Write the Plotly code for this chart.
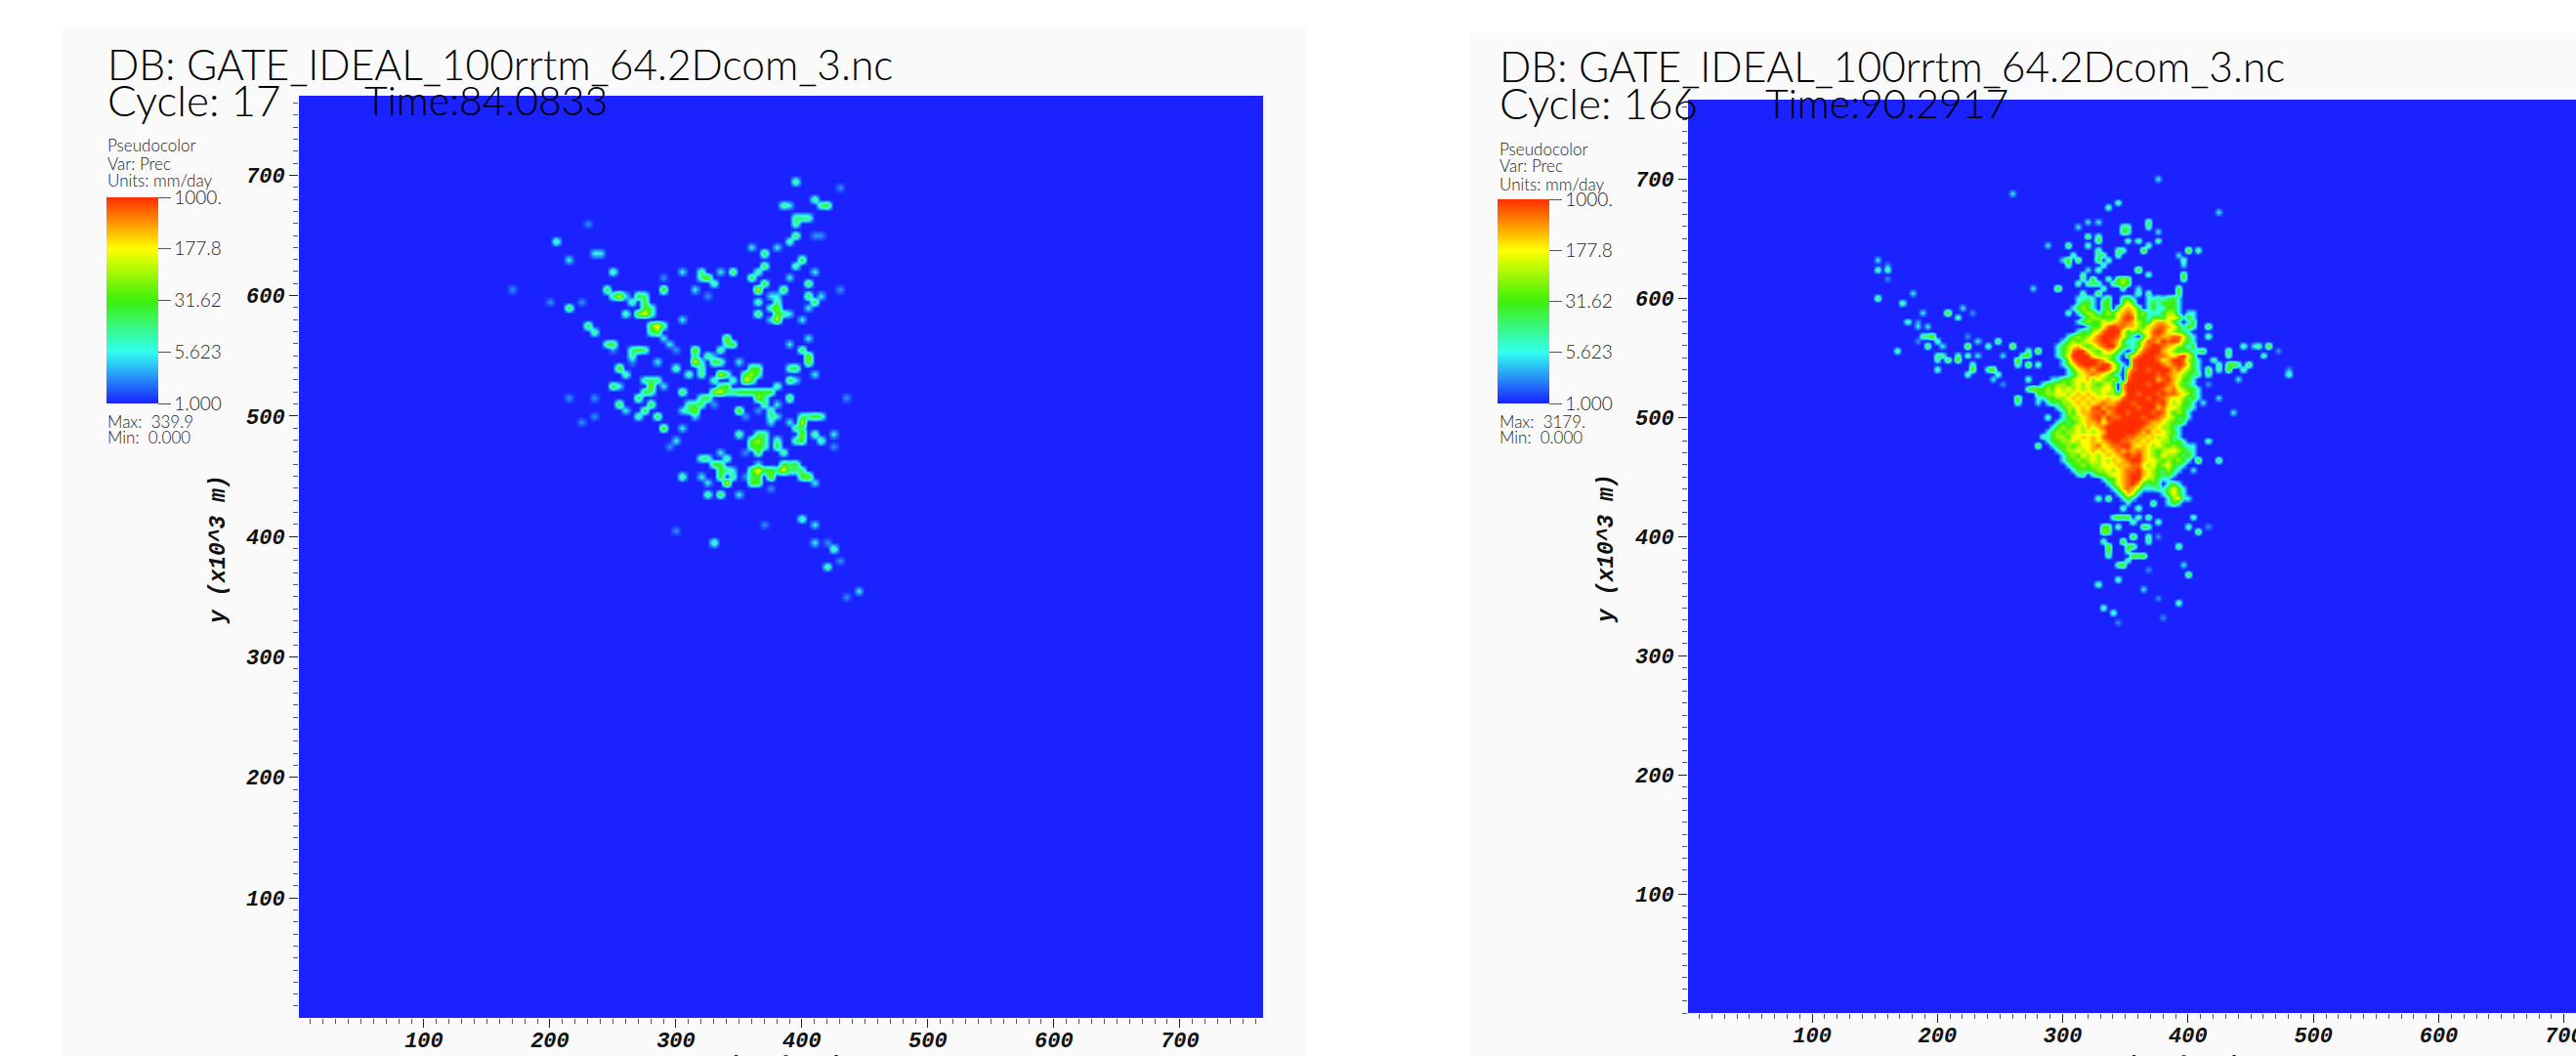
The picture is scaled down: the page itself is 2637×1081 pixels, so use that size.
import numpy as np
import plotly.graph_objects as go

W, H = 2637, 1081
TITLE = "DB: GATE_IDEAL_100rrtm_64.2Dcom_3.nc"
COLORBAR_VALUES = [0, 0.75, 1.5, 2.25, 3]
COLORBAR_LABELS = ["1.000", "5.623", "31.62", "177.8", "1000."]
AXIS_TICKS = [100, 200, 300, 400, 500, 600, 700]
# precipitation (mm/day) for each intensity class
CLASS_MM_DAY = [1.0, 2.6, 5.6, 15.0, 31.6, 71.0, 178.0, 320.0, 630.0, 1000.0]

# ---- Left frame, cycle 17: rain cells (x km, y km, intensity class)
left_x = [396,430,411,384,391,421,399,397,395,391,388,408,414,381,360,370,399,370,363,393,
          408,388,360,363,370,403,432,386,375,381,417,366,380,406,411,406,364,379,382,390,
          373,401,406,388,404,406,390,395,390,412,395,
          204,231,234,240,213,169,198,213,224,252,247,255,262,264,273,262,271,277,282,284,
          284,291,291,232,304,288,291,306,319,326,333,345,315,324,251,264,270,249,295,298,
          286,264,257,278,280,274,286,292,248,255,270,213,237,253,262,282,277,271,284,291,
          304,300,295,225,237,
          316,313,302,309,318,340,345,337,328,322,336,331,348,333,340,345,358,364,355,342,
          328,337,322,306,350,358,367,367,377,372,390,382,313,319,315,304,331,349,375,373,
          378,357,363,
          398,412,417,406,399,391,398,412,413,423,426,375,350,363,371,366,366,379,380,385,
          357,367,333,323,342,335,345,359,367,376,384,385,393,395,399,406,412,322,306,327,
          335,344,342,362,355,327,334,351,376,
          401,411,411,421,426,419,444,435,330,298,370,432,435,
          326,330,334,338,342,346,350,354,358,362,366,370,374,378,370,368,372,374,
          354,358,362,366,362,356,338,336,340,362,366,370,362,370,366,
          331,335,339,335,343,363,371,375,380,388,392,396,400,363,360,364,
          396,400,396,400,398,402,375,380,383,378,268,277,275,268,280,281,287,281,
          276,284,278,309,311,316,402,407,313,326,333,322,328,336,
          249,236,417,395,403,322,330,253,262,247,266,274,408,414,319,327]
left_y = [694,691,682,673,676,673,667,660,648,646,643,649,652,639,640,633,630,624,622,625,
          622,615,613,606,612,610,607,603,601,601,601,595,591,599,595,589,586,586,580,583,
          580,578,565,559,549,544,541,541,532,534,529,
          643,658,634,634,628,604,594,592,596,620,603,598,599,593,597,585,584,586,586,574,
          568,576,567,576,580,616,607,619,619,614,620,619,607,601,558,551,556,553,559,553,
          546,543,538,532,525,521,532,526,523,526,516,515,514,510,504,509,505,499,500,490,
          490,480,477,496,498,
          554,543,542,536,534,563,561,556,545,547,547,552,545,533,534,530,534,539,528,525,
          520,520,517,522,522,521,517,522,522,513,513,510,507,511,499,505,510,505,507,501,
          499,499,507,
          502,499,499,499,493,493,483,486,481,484,474,493,484,486,486,478,471,480,474,472,
          468,462,472,466,463,457,456,456,453,452,460,456,461,457,451,449,447,451,448,447,
          451,449,443,446,450,436,434,435,442,
          416,409,397,397,390,375,357,349,397,403,411,379,514,
          517,518,520,522,522,521,520,520,522,522,520,520,522,524,516,512,508,504,
          536,538,536,535,532,532,559,554,558,482,482,478,474,474,474,
          460,461,453,453,452,456,454,455,456,462,457,455,453,450,450,443,
          488,488,478,478,497,482,592,595,587,582,598,598,592,584,590,577,570,568,
          528,528,520,512,503,509,555,552,550,550,545,540,530,527,
          598,572,676,667,667,617,610,538,537,558,556,555,499,500,466,466]
left_class = [3,1,3,3,2,4,3,3,4,3,3,1,1,2,2,4,4,4,3,3,
              2,2,4,6,4,4,1,4,2,2,2,3,5,4,4,2,4,4,6,2,
              2,2,2,2,5,5,3,4,4,2,2,
              3,1,2,2,2,1,1,4,1,3,4,6,2,3,4,3,5,6,3,7,
              4,3,2,4,2,1,5,2,3,5,2,4,2,1,4,3,4,1,2,1,
              2,1,5,3,5,4,2,2,4,2,4,1,1,4,2,4,4,3,4,5,
              2,2,1,1,1,
              5,6,3,3,3,5,4,3,4,2,3,1,2,6,3,3,5,4,6,4,
              5,6,3,4,4,4,5,4,4,3,4,2,5,3,2,2,1,5,3,3,
              2,1,1,
              3,4,3,3,6,2,5,3,3,2,1,2,3,3,3,5,4,3,4,3,
              1,2,2,3,3,4,2,4,6,5,4,6,4,3,4,5,2,2,3,2,
              4,3,6,4,1,3,4,2,1,
              3,2,2,1,3,3,2,1,3,1,1,1,1,
              4,4,3,3,3,3,3,4,4,4,4,4,3,3,3,3,3,3,
              4,4,4,3,4,3,3,3,3,4,4,3,4,3,4,
              4,4,3,4,3,4,4,4,3,3,3,3,3,4,3,4,
              3,3,3,3,3,4,3,3,3,3,4,3,4,3,3,4,3,3,
              3,3,3,3,3,3,4,4,3,3,3,3,3,3,
              3,3,3,3,3,3,3,3,3,3,3,3,3,3,3,3]

# ---- Right frame, cycle 166: scattered rain cells (x km, y km, intensity class)
right_x = [378,261,336,345,425,366,326,319,312,378,348,352,318,377,327,303,288,352,365,407,
           399,393,349,343,327,327,306,313,301,335,320,395,326,362,366,395,325,317,313,335,
           349,349,344,343,360,296,294,277,327,390,390,383,379,348,317,370,362,304,394,404,
           414,417,396,403,413,403,431,430,445,453,462,470,421,436,430,418,443,449,414,405,
           478,479,438,405,404,416,413,423,405,435,
           414,405,399,407,423,405,393,395,402,405,402,414,408,392,396,402,393,381,378,
           330,336,344,353,348,360,370,373,375,332,332,364,366,355,349,357,334,334,357,365,
           349,345,330,363,331,340,375,375,369,342,
           150,159,153,159,159,150,180,171,189,206,219,228,214,177,186,192,186,197,187,183,
           222,204,190,170,222,232,242,250,260,273,281,252,199,204,209,218,231,266,271,264,
           244,240,229,225,198,243,252,271,275,262,282,287,283,282,279,
           353,353,349,339,325,321,329,333,316,309,302,331,331,345,352,352,347,366,368,362,
           397,396,327,326,320,
           425,434,441,408,426,410,465,461,457,
           214,222,200,193,200,226,228,246,268,272,278,280,270,285,264,
           336,334,360,349,340,345,351,352,360,367,366,374,355,332,338,351,346]
right_y = [700,686,677,678,670,666,664,663,660,658,655,657,651,649,646,645,643,646,641,642,
           638,637,638,636,637,631,631,631,634,631,626,628,625,624,619,621,618,615,612,615,
           618,611,616,611,610,609,607,610,605,609,604,601,597,601,604,603,603,589,585,577,
           574,570,570,567,556,558,556,554,559,559,558,556,547,546,540,541,541,542,537,536,
           535,541,532,530,524,526,514,517,514,505,
           478,475,469,464,463,457,440,433,432,417,409,409,403,391,375,366,343,331,349,
           430,430,418,417,414,425,418,429,411,407,403,406,401,401,395,392,391,388,384,383,
           374,365,360,355,340,337,442,401,372,328,
           632,629,623,623,616,599,604,595,589,589,590,589,583,580,580,578,574,569,567,565,
           569,562,559,556,561,563,560,565,562,556,556,552,552,552,548,549,550,548,544,544,
           539,539,540,535,541,532,529,531,524,517,515,501,483,475,514,
           618,611,606,611,611,611,612,608,621,636,629,636,627,642,650,660,660,660,645,646,
           632,618,652,642,645,
           544,544,542,534,539,556,560,554,560,
           552,552,548,570,565,560,545,535,552,552,546,522,524,520,512,
           403,408,415,422,418,408,394,388,384,410,396,412,411,395,386,380,378]
right_class = [2,2,3,3,2,4,2,2,2,2,4,3,4,3,4,4,2,3,5,3,
               5,2,3,3,3,4,5,4,2,3,2,2,3,5,3,5,4,3,3,3,
               5,5,4,4,2,5,3,2,4,4,4,3,4,3,3,3,3,3,5,3,
               4,3,4,2,4,4,4,3,3,2,5,1,3,5,5,4,3,4,3,3,
               3,1,2,2,2,1,2,2,1,2,
               3,2,3,5,4,2,2,2,2,3,3,1,4,4,2,4,3,1,1,
               3,4,5,5,4,3,4,4,3,4,5,4,3,5,5,4,5,4,5,5,
               5,3,3,2,3,3,3,1,1,1,
               2,1,3,3,1,4,2,3,2,5,2,1,3,3,1,2,2,5,3,1,
               1,2,4,3,5,2,3,4,5,3,5,2,3,3,4,5,2,5,5,3,
               5,3,5,3,3,2,1,3,5,5,2,3,3,4,2,
               4,4,3,3,3,3,3,3,3,3,3,3,3,3,3,3,3,3,3,3,
               3,4,3,3,3,
               3,4,3,3,3,3,3,3,3,
               3,3,3,3,3,3,3,3,4,4,3,3,3,3,3,
               4,4,3,3,3,3,4,3,4,3,3,3,3,3,3,3,3]

# ---- Right frame: the dense core, one row per 4 km going south from y = 600 km,
# first column at x = 268 km. Digits are intensity classes.
core_x0 = 268
core_y0 = 600
core_rows = [
    "000000000002232024002420022322420000",
    "000000000002442044004640024224420000",
    "000000000024542034046764024224420000",
    "000000000002455245467874522245520220",
    "000000000000245544468984424436642420",
    "000000000002454465678875436776420240",
    "000000000000024468988775467887642420",
    "000000000002435689996454668986543200",
    "000000000245456899986420468877886320",
    "000000002454567899874224688798985420",
    "000000024567545789964324789987654220",
    "000000024589965467642026899976534420",
    "000000024699996555420468999887689640",
    "000000002589999875420089999867998542",
    "000000002468999899642089999987898632",
    "000000000246787998640689989999786542",
    "000000000235678765320799999898765432",
    "000000224456675654540899999789764420",
    "000024455456565456407999989998754320",
    "002445465656565566507999999987865442",
    "000445566567676565546998999898876532",
    "000024455676767667668999989987665342",
    "000002435567676787789989999897564420",
    "000000024556768978899998999786654320",
    "000000002546778897899899998986454200",
    "000000002455678979889999899876534200",
    "000000024345677868999999987765443000",
    "000000245456576789999999877655320000",
    "000002454556565679999998786765420000",
    "000002455466767689999887767565320000",
    "000002445565667678998877676655342000",
    "000000244545667867889976765654543200",
    "000000024556567676787878765456654320",
    "000000002454656567678989765465543420",
    "000000002445456565767899766545454200",
    "000000000244545566677788656456432000",
    "000000000024344556567889765435320000",
    "000000000002302445667899765434200000",
    "000000000000000024467899655322000000",
    "000000000000000002467897434302420000",
    "000000000000000000247875222024642000",
    "000000000000000000024762000024642000",
    "000000000000000000002420000002562000",
    "000000000000000000000200000002420000",
]

COLORS = [[0.0, "#1a22ff"], [0.25, "#32fff0"], [0.5, "#3cf00a"], [0.75, "#ffff00"], [1.0, "#ff2d00"]]
FONT = "Lato"
AXFONT = "Liberation Mono"


def fx(p):
    return p / W


def fy(p):
    return 1 - p / H


def grid_field(xs, ys, classes, cell, rows=None):
    n = 768 // cell + 1
    grid = np.arange(n) * cell
    z = np.zeros((n, n))
    logs = np.log10(CLASS_MM_DAY)
    for x, y, c in zip(xs, ys, classes, strict=True):
        i, j = round(x / cell), round(y / cell)
        z[j, i] = max(z[j, i], logs[c])
    if rows:
        for r, row in enumerate(rows):
            for c, ch in enumerate(row):
                i = core_x0 // cell + c
                j = core_y0 // cell - r
                z[j, i] = max(z[j, i], logs[int(ch)])
    return grid, z


fig = go.Figure()


def add_panel(suffix, field, cb_left, cb_top, cb_len):
    grid, z = field
    fig.add_trace(go.Heatmap(
        x=grid, y=grid, z=z, zmin=0, zmax=3, zsmooth="best", colorscale=COLORS, hoverinfo="skip",
        xaxis="x" + suffix, yaxis="y" + suffix,
        colorbar=dict(
            x=fx(cb_left), xanchor="left", xpad=0, y=fy(cb_top), yanchor="top", ypad=0,
            lenmode="pixels", len=cb_len, thicknessmode="pixels", thickness=53,
            tickmode="array", tickvals=COLORBAR_VALUES, ticktext=COLORBAR_LABELS,
            ticks="outside", ticklen=13, tickwidth=1, tickcolor="#555555",
            tickfont=dict(family=FONT, size=19, color="#222222", weight=300), outlinewidth=0,
        ),
    ))


add_panel("", grid_field(left_x, left_y, left_class, 5), 109, 202, 211)
add_panel("2", grid_field(right_x, right_y, right_class, 4, core_rows), 1533, 204, 209)


def axis(domain, rng, standoff):
    return dict(
        domain=domain, range=rng, tickmode="array", tickvals=AXIS_TICKS,
        ticks="outside", ticklen=9, tickwidth=1, tickcolor="#222222", ticklabelstandoff=standoff,
        tickfont=dict(family=AXFONT, size=22, color="#111111", weight="bold", style="italic"),
        showgrid=False, zeroline=False, ticklabeloverflow="allow",
        minor=dict(tick0=0, dtick=10, ticks="outside", ticklen=5, tickwidth=1, tickcolor="#555555", showgrid=False),
        showline=False,
    )


annotations = []


def label(px, py, text, size, color="#111111", family=FONT, anchor="left", angle=0, **font):
    annotations.append(dict(
        x=fx(px), y=fy(py), xref="paper", yref="paper", text=text, showarrow=False,
        xanchor=anchor, yanchor="middle", textangle=angle, borderpad=0,
        font=dict(family=family, size=size, color=color, **font),
    ))


def panel_text(left, y0, cycle, time_x, time, vmax):
    label(left, y0, TITLE, 42.5, "#000000", weight=300)
    label(left, y0 + 37, "Cycle: " + cycle, 44, "#000000", weight=300)
    label(time_x, y0 + 37, "Time:" + time, 41, "#000000", weight=300)
    label(left, y0 + 84, "Pseudocolor", 17, "#222222", weight=300)
    label(left, y0 + 102, "Var: Prec", 17, "#222222", weight=300)
    label(left, y0 + 120, "Units: mm/day", 17, "#222222", weight=300)
    label(left, 431, "Max:  " + vmax, 17, "#222222", weight=300)
    label(left, 448, "Min:  0.000", 17, "#222222", weight=300)


panel_text(109, 65, "17", 372, "84.0833", "339.9")
panel_text(1534, 68, "166", 1806, "90.2917", "3179.")
label(224, 563, "y (x10^3 m)", 23, family=AXFONT, anchor="center", angle=-90, weight="bold", style="italic")
label(1645, 562, "y (x10^3 m)", 23, family=AXFONT, anchor="center", angle=-90, weight="bold", style="italic")
label(789, 1090, "x (x10^3 m)", 22, family=AXFONT, anchor="center", weight="bold", style="italic")
label(2220, 1090, "x (x10^3 m)", 22, family=AXFONT, anchor="center", weight="bold", style="italic")

shapes = [
    dict(type="rect", xref="paper", yref="paper", x0=fx(64), x1=fx(1338), y0=fy(1081), y1=fy(29),
         fillcolor="#fafafa", line_width=0, layer="below"),
    dict(type="rect", xref="paper", yref="paper", x0=fx(1504), x1=1, y0=fy(1081), y1=fy(33),
         fillcolor="#fafafa", line_width=0, layer="below"),
]

fig.update_layout(
    width=W, height=H, margin=dict(l=0, r=0, t=0, b=0, pad=0, autoexpand=False),
    paper_bgcolor="white", plot_bgcolor="#1a22ff", showlegend=False,
    xaxis=dict(**axis([fx(306), fx(1293)], [0.8, 766], -6), anchor="y"),
    yaxis=dict(**axis([fy(1042), fy(98)], [0.25, 766], 0), anchor="x"),
    xaxis2=dict(**axis([fx(1728), 1], [1.0, 709.5], -6), anchor="y2"),
    yaxis2=dict(**axis([fy(1037), fy(102)], [0, 766.4], 0), anchor="x2"),
    shapes=shapes, annotations=annotations,
)

fig.write_html(
    "out.html",
    config={"displayModeBar": False},
    post_script="document.body.style.margin='0';document.documentElement.style.overflow='hidden';",
)
